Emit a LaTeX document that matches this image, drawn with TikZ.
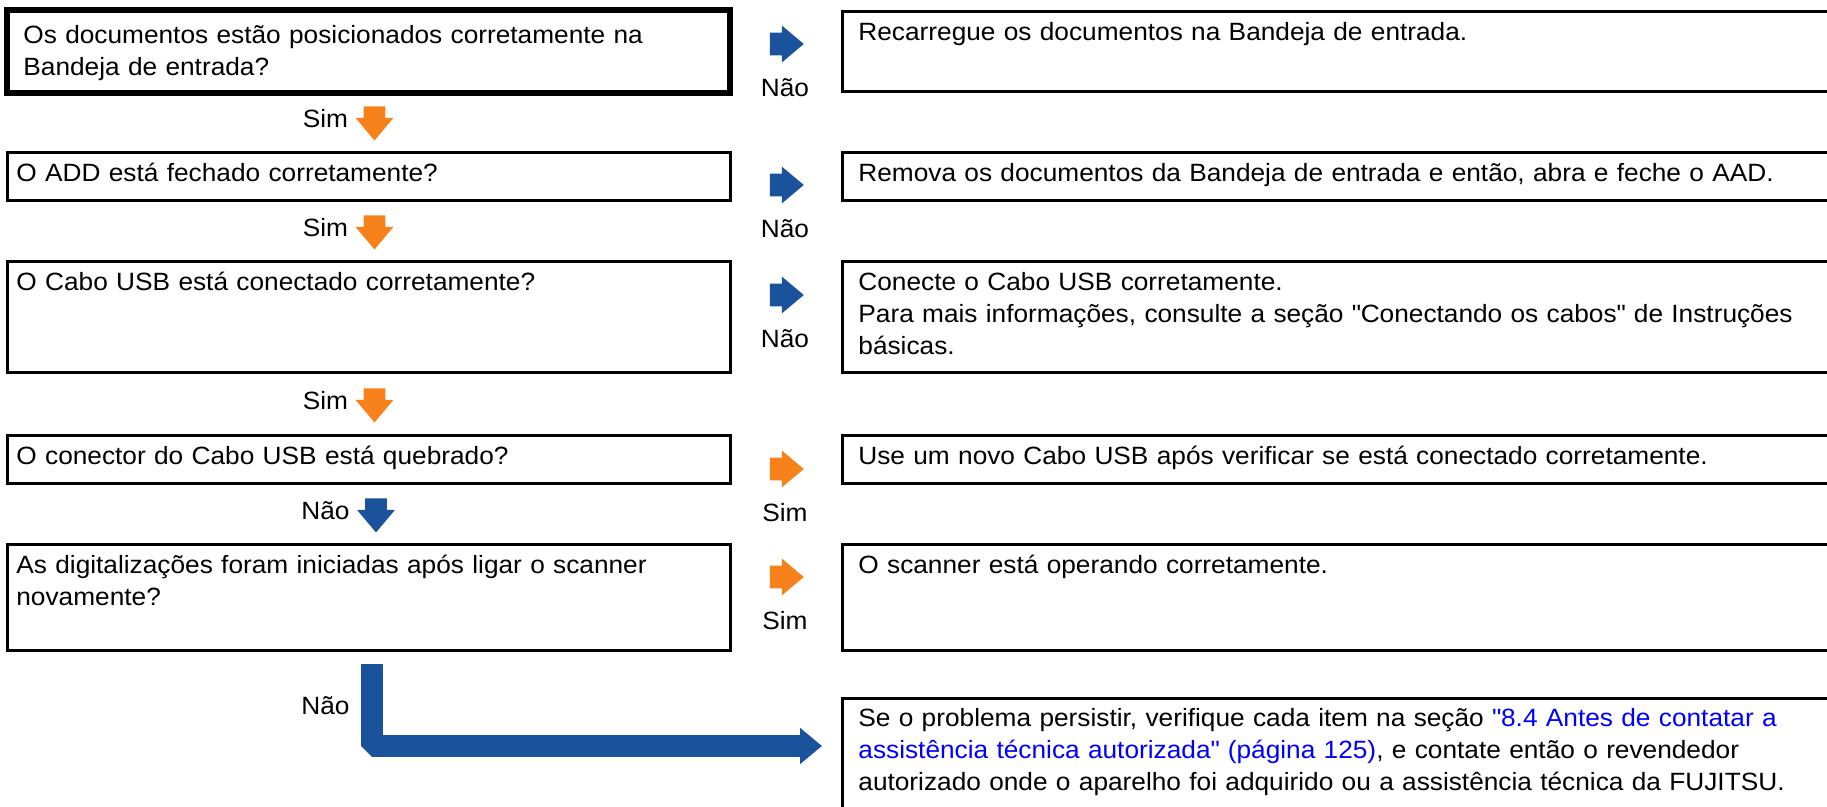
\documentclass[tikz,border=0pt]{standalone}
\usepackage{fontspec}
\setmainfont{Liberation Sans}[FakeStretch=1.05]
\usepackage{xcolor}
\usetikzlibrary{arrows.meta,positioning,shapes.arrows}
\definecolor{flowblue}{RGB}{27,82,156}
\definecolor{floworange}{RGB}{247,130,27}
\definecolor{linkblue}{RGB}{0,0,255}

\begin{document}
\begin{tikzpicture}[
    x=0.5pt, y=-0.5pt,
    every node/.style={font=\fontsize{12.5pt}{16pt}\selectfont},
    qbox/.style={rectangle, draw=black, line width=1.5pt, anchor=north west, outer sep=0pt, inner sep=0pt, minimum width=361.5pt},
    abox/.style={qbox, minimum width=500pt},
    txt/.style={anchor=north west, inner sep=0pt, align=left, text width=600pt},
    lbl/.style={inner sep=0pt},
    rarrow/.style={single arrow, draw=none, fill=#1, inner xsep=0pt, inner ysep=5.5pt, minimum width=18pt, minimum height=17pt, single arrow head extend=3.5pt, single arrow tip angle=80},
    darrow/.style={rarrow=#1, rotate=-90, inner ysep=5.25pt, minimum width=18.5pt, single arrow head extend=4pt},
    lpath/.style={draw=flowblue, line width=11pt, line join=bevel, -{Triangle[width=17.5pt,length=11pt]}}
]
\clip (0,0) rectangle (1827,807);

% question boxes (left) and answer boxes (right)
\node[qbox, line width=3.25pt, minimum height=41.5pt] (q1) at (7,10) {};
\node[abox, minimum height=40pt] (a1) at (842,12) {};
\node[qbox, minimum height=24pt] (q2) at (7,153) {};
\node[abox, minimum height=24pt] (a2) at (842,153) {};
\node[qbox, minimum height=55.5pt] (q3) at (7,262) {};
\node[abox, minimum height=55.5pt] (a3) at (842,262) {};
\node[qbox, minimum height=24pt] (q4) at (7,436) {};
\node[abox, minimum height=24pt] (a4) at (842,436) {};
\node[qbox, minimum height=52.5pt] (q5) at (7,545) {};
\node[abox, minimum height=52.5pt] (a5) at (842,545) {};
\node[abox, minimum height=62pt] (a6) at (842,698) {};

% texts
\node[txt, text width=350pt] (q1t) at ([xshift=8pt, yshift=-5.3pt]q1.north west) {\strut Os documentos estão posicionados corretamente na\\Bandeja de entrada?};
\node[txt] (a1t) at ([xshift=8pt, yshift=-2.8pt]a1.north west) {\strut Recarregue os documentos na Bandeja de entrada.};
\node[txt, text width=350pt] (q2t) at ([xshift=4.5pt, yshift=-2.8pt]q2.north west) {\strut O ADD está fechado corretamente?};
\node[txt] (a2t) at ([xshift=8pt, yshift=-2.8pt]a2.north west) {\strut Remova os documentos da Bandeja de entrada e então, abra e feche o AAD.};
\node[txt, text width=350pt] (q3t) at ([xshift=4.5pt, yshift=-2.8pt]q3.north west) {\strut O Cabo USB está conectado corretamente?};
\node[txt] (a3t) at ([xshift=8pt, yshift=-2.8pt]a3.north west) {\strut Conecte o Cabo USB corretamente.\\Para mais informações, consulte a seção \textquotedbl Conectando os cabos\textquotedbl{} de Instruções\\básicas.};
\node[txt, text width=350pt] (q4t) at ([xshift=4.5pt, yshift=-2.8pt]q4.north west) {\strut O conector do Cabo USB está quebrado?};
\node[txt] (a4t) at ([xshift=8pt, yshift=-2.8pt]a4.north west) {\strut Use um novo Cabo USB após verificar se está conectado corretamente.};
\node[txt, text width=350pt] (q5t) at ([xshift=4.5pt, yshift=-2.8pt]q5.north west) {\strut As digitalizações foram iniciadas após ligar o scanner\\novamente?};
\node[txt] (a5t) at ([xshift=8pt, yshift=-2.8pt]a5.north west) {\strut O scanner está operando corretamente.};
\node[txt] (a6t) at ([xshift=8pt, yshift=-2.8pt]a6.north west) {\strut Se o problema persistir, verifique cada item na seção \textcolor{linkblue}{\textquotedbl 8.4 Antes de contatar a}\\\textcolor{linkblue}{assistência técnica autorizada\textquotedbl{} (página 125)}, e contate então o revendedor\\autorizado onde o aparelho foi adquirido ou a assistência técnica da FUJITSU.};

% right arrows with answers
\node[rarrow=flowblue] (r1) at (780,44) {};
\node[lbl, anchor=base] (r1l) at ([xshift=2.5pt, yshift=-26.5pt]r1.center) {Não};
\node[rarrow=flowblue] (r2) at (780,185) {};
\node[lbl, anchor=base] (r2l) at ([xshift=2.5pt, yshift=-26.5pt]r2.center) {Não};
\node[rarrow=flowblue] (r3) at (780,295) {};
\node[lbl, anchor=base] (r3l) at ([xshift=2.5pt, yshift=-26.5pt]r3.center) {Não};
\node[rarrow=floworange] (r4) at (780,469) {};
\node[lbl, anchor=base] (r4l) at ([xshift=2.5pt, yshift=-26.5pt]r4.center) {Sim};
\node[rarrow=floworange] (r5) at (780,577) {};
\node[lbl, anchor=base] (r5l) at ([xshift=2.5pt, yshift=-26.5pt]r5.center) {Sim};

% down arrows
\node[darrow=floworange] (d1) at (374.5,117) {};
\node[lbl, anchor=base east] (d1l) at ([xshift=-13pt, yshift=-5.5pt]d1.center) {Sim};
\node[darrow=floworange] (d2) at (374.5,226) {};
\node[lbl, anchor=base east] (d2l) at ([xshift=-13pt, yshift=-5.5pt]d2.center) {Sim};
\node[darrow=floworange] (d3) at (374.5,399) {};
\node[lbl, anchor=base east] (d3l) at ([xshift=-13pt, yshift=-5.5pt]d3.center) {Sim};
\node[darrow=flowblue] (d4) at (376,509) {};
\node[lbl, anchor=base east] (d4l) at ([xshift=-13pt, yshift=-5.5pt]d4.center) {Não};

% last step
\coordinate (lend) at ([yshift=-24pt]a6.north west);
\draw[lpath, shorten <=7pt, shorten >=10pt] ([xshift=1.75pt]q5.south) |- (lend);
\node[lbl, anchor=east] (l6) at (350,706) {Não};
\end{tikzpicture}
\end{document}
